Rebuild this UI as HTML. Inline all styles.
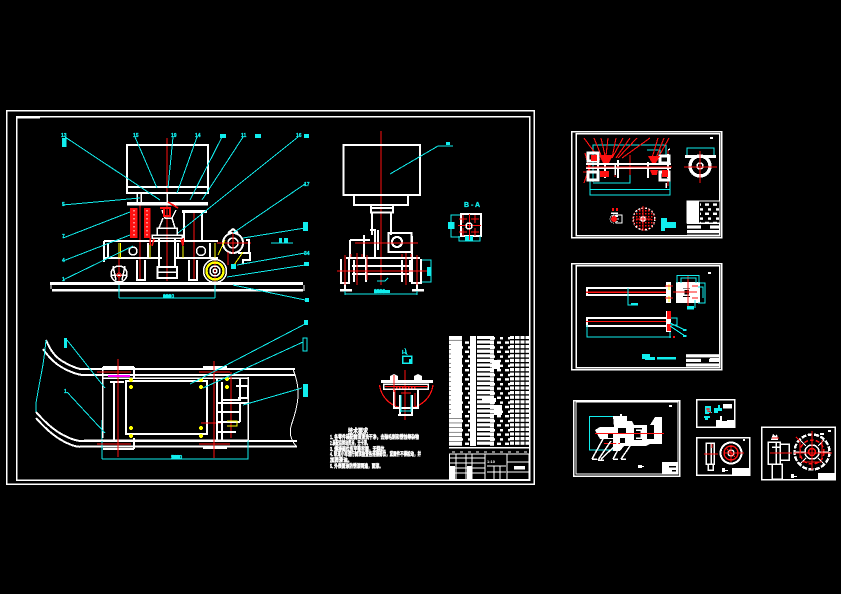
<!DOCTYPE html>
<html lang="zh"><head><meta charset="utf-8"><title>CAD drawing</title>
<style>
html,body{margin:0;padding:0;background:#000;width:841px;height:594px;overflow:hidden}
svg{display:block;shape-rendering:crispEdges}
text{font-family:"Liberation Sans","Noto Sans CJK SC",sans-serif;font-weight:bold}
.w{stroke:#fff;fill:none}
.c{stroke:#1ee;fill:none}
.r{stroke:#f11;fill:none}
.y{stroke:#ff0;fill:none}
.fw{fill:#fff}.fc{fill:#1ee}.fr{fill:#f11}.fy{fill:#ff0}
.tc{fill:#1ee;font-size:5px;stroke:#1ee;stroke-width:.3px}
.tw{fill:#fff;font-size:5.6px;stroke:#fff;stroke-width:.45px}
</style></head><body>
<svg width="841" height="594" viewBox="0 0 841 594" xmlns="http://www.w3.org/2000/svg" stroke-width="1.500">
<defs>
<pattern id="rows" width="5" height="4.6" patternUnits="userSpaceOnUse"><rect width="5" height="3" fill="#fff"/></pattern>
<pattern id="dense" width="5" height="4.6" patternUnits="userSpaceOnUse"><rect width="5" height="4" fill="#fff"/></pattern>
<pattern id="sparse" width="8" height="9.2" patternUnits="userSpaceOnUse"><rect x="1" y="1" width="4" height="2.4" fill="#fff"/><rect x="4" y="5.6" width="3" height="2.4" fill="#fff"/></pattern>
<pattern id="hatch" width="3" height="3" patternUnits="userSpaceOnUse"><rect width="1.6" height="1.6" fill="#f11"/></pattern>
</defs>
<rect width="841" height="594" fill="#000"/>

<!-- main frames -->
<rect class="w" x="6.500" y="110.500" width="527.500" height="373.500"/>
<rect class="w" x="16.500" y="116.500" width="513" height="363.500"/>
<path class="w" stroke-width="1" d="M17 118H40"/>

<!-- FRONT VIEW -->
<g>
<path class="r" stroke-width="1" d="M167 138V281M119 245V298M140 205V280M194 210V280M215 250V290"/>
<rect class="w" x="127" y="145" width="81" height="48" stroke-width="2"/>
<path class="w" stroke-width="2" d="M127 187H208"/>
<path class="w" d="M137 193V202M141 193V202M167 193V202"/>
<rect class="fw" x="127" y="202" width="81" height="3.500"/>
<rect class="fw" x="182" y="210" width="25" height="3"/>
<path class="w" stroke-width="2" d="M184 213V240M202 213V240"/>
<path class="w" d="M162 210L165 218H172L176 210M163 218L159 228H175L172 218M157 228H177V235H157ZM152 235H182V238H152Z"/>
<rect class="fr" x="130" y="208" width="7.500" height="30"/>
<rect class="fr" x="144" y="208" width="6.500" height="30"/>
<path stroke="#fff" stroke-width="1" stroke-dasharray="1.500 2.500" d="M134 210V236M147 210V236"/>
<rect class="fr" x="160" y="207" width="11" height="2"/>
<path class="r" stroke-width="1.600" d="M164 208V216H170V208M168 202L178 208"/>
<path class="w" stroke-width="2" d="M159 238V267M175 238V267"/>
<rect class="w" x="157.500" y="267" width="19.500" height="11" stroke-width="2"/>
<path class="w" d="M158 272H176"/>
<path class="w" stroke-width="2.400" d="M104 241H218M104 258H162M175 258H218"/>
<path class="w" stroke-width="2" d="M104 241V262M108 243V258M148 243V258M178 243V258M210 243V258"/>
<path class="w" stroke-width="2" d="M137 260V280H145V260M189 260V280H197V260"/>
<circle class="w" cx="133" cy="251" r="4"/><circle class="w" cx="201" cy="251" r="4.500"/>
<path class="y" stroke-width="1.200" d="M119 243V258M120.500 243V258M150 243V258M183 243V258M215 243V258"/>
<path class="r" stroke-width="1.500" d="M150 238V245M183 238V245M154 239L152 246M181 239L183 246"/>
<circle class="w" cx="119" cy="274" r="8"/><path class="w" d="M113 266L116 280M125 266L122 280M111 275H127"/>
<circle class="r" stroke-width="1" cx="119" cy="275" r="2"/>
<circle class="w" cx="215" cy="271" r="11.500"/>
<circle cx="215" cy="271" r="8.500" stroke="#ff0" stroke-width="2.400" fill="none"/>
<circle class="w" cx="215" cy="271" r="5"/><circle class="w" cx="215" cy="271" r="2"/>
<circle class="w" cx="233" cy="243" r="10" stroke-width="2"/><path class="w" stroke-width="2" d="M228 233L233 229L238 233"/>
<circle class="w" cx="233" cy="243" r="5"/>
<path class="r" stroke-width="1.200" d="M217 243H251M233 232V254M228 252V265"/>
<path class="w" stroke-width="2" d="M238 253H250V260H243V264M246 240H249V253"/>
<path class="y" stroke-width="1" d="M218 255L225 240M232 268L243 252"/>
<rect class="fc" x="231" y="264" width="5" height="5"/>
<!-- rail -->
<rect class="fw" x="50" y="282" width="253" height="3"/>
<rect class="fw" x="52" y="289" width="251" height="2.500"/>
<path class="w" stroke-width="1" d="M51 285V289M304 285V291"/>
<path class="c" stroke-width="1" d="M119 298H215M119 285V298M215 285V298"/>
<text class="tc" x="163" y="298">2800</text><rect class="fc" x="163" y="295" width="8" height="3"/>
<!-- leaders -->
<path class="c" stroke-width="1" d="M65 137L160 200M135 137L157 188M173 137L168 188M197 137L177 193M222 137L190 200M243 137L202 200M298 137L178 233M305 184L233 233M305 228L243 238M305 253L237 265M305 265L227 277M305 300L233 285M63 205L140 198M63 238L130 212M63 261L130 235M63 280L133 246M271 243H293"/>
<text class="tc" x="61" y="137">13</text><rect class="fc" x="62" y="138" width="4.500" height="9"/>
<text class="tc" x="133" y="137">15</text><text class="tc" x="171" y="137">19</text><text class="tc" x="195" y="137">14</text>
<rect class="fc" x="220" y="134" width="6" height="4"/><text class="tc" x="241" y="137">11</text><rect class="fc" x="255" y="134" width="6" height="4"/>
<text class="tc" x="296" y="137">16</text><rect class="fc" x="304" y="134" width="5" height="4"/>
<text class="tc" x="304" y="186">17</text><rect class="fc" x="303" y="222" width="5" height="9"/>
<rect class="fc" x="279" y="238" width="3" height="5"/><rect class="fc" x="284" y="238" width="4" height="5"/>
<text class="tc" x="304" y="255">34</text><rect class="fc" x="304" y="262" width="5" height="4"/><rect class="fc" x="305" y="298" width="4" height="4"/>
<text class="tc" x="62" y="206">5</text><text class="tc" x="62" y="238">7</text><text class="tc" x="62" y="262">4</text><text class="tc" x="62" y="281">1</text>
</g>

<!-- PLAN VIEW -->
<g>
<path class="w" stroke-width="2" d="M46 340Q52 355 62 361T80 369H295M43 349Q52 362 63 368T82 375H295M36 412Q50 428 63 435T85 441H297M36 418Q50 434 63 441T82 446.500H297"/>
<path class="w" stroke-width="1" d="M293 369Q299 385 298 397T292 423T297 447"/>
<path class="c" stroke-width="1" d="M46 340Q44 360 42 370T36 403V412"/>
<path class="c" stroke-width="1.200" d="M102 459H248V433M102 420V459"/>
<text class="tc" x="171" y="459">5000</text><rect class="fc" x="172" y="455" width="8" height="3.500"/>
<path class="w" d="M102.500 367V438M102 378H248M248 377V440M84 440H248"/>
<path class="w" stroke-width="2.400" d="M103 367H134M103 449H134M203 367H227M203 448H227M134 367V378M134 438V449"/>
<rect class="w" x="126" y="381" width="81" height="53" stroke-width="2"/>
<path class="w" stroke-width="2" d="M114 382V440M110 382H124"/>
<path class="r" stroke-width="1.200" d="M118 359V457M214 361V458M231 372V438M97 372H131M199 372H230M97 444H131M199 444H230M201 423H222"/>
<path stroke="#f0f" stroke-width="1.600" d="M108 376H130"/>
<g class="fy"><circle cx="131" cy="380" r="2"/><circle cx="131" cy="387" r="2"/><circle cx="131" cy="428" r="2"/><circle cx="131" cy="436" r="2"/><circle cx="201" cy="380" r="2"/><circle cx="201" cy="387" r="2"/><circle cx="201" cy="428" r="2"/><circle cx="201" cy="436" r="2"/><circle cx="227" cy="379" r="2"/><circle cx="227" cy="387" r="2"/></g>
<path class="w" stroke-width="2" d="M217 378V440M222 382V440M221 400H240V378M236 386H248V398H238M218 403H248M218 412H240V404M216 422H240M218 432H236M240 412V422"/>
<path class="y" stroke-width="1" d="M227 421H237V426H227"/>
<path class="c" stroke-width="1" d="M307 323L190 384M303 342L203 388M302 388L243 405M67 340L105 388M67 392L105 433"/>
<rect class="fc" x="304" y="320" width="4" height="5"/><rect class="c" stroke-width="1" x="303" y="338" width="4" height="13"/><rect class="fc" x="303" y="384" width="5" height="13"/>
<text class="tc" x="64" y="344">9</text><rect class="fc" x="64" y="338" width="3" height="10"/>
<text class="tc" x="64" y="393">1</text>
</g>

<!-- SIDE VIEW -->
<g>
<path class="r" stroke-width="1" d="M381 131V285"/>
<rect class="w" x="343.500" y="145" width="76.500" height="50" stroke-width="2"/>
<path class="w" stroke-width="2" d="M354 195V205H408V195"/><rect class="fw" x="354" y="204" width="55" height="2"/>
<path class="w" stroke-width="2" d="M370 208H394M370 212.500H394M372 213V235M391 213V235M371 205V213M393 205V213"/>
<rect class="w" x="388.500" y="233" width="23" height="19" stroke-width="2.200"/>
<circle class="w" cx="397" cy="242" r="5" stroke-width="2.200"/>
<path class="w" stroke-width="2" d="M350 240V258M350 240H370M364 235V258M370 230H375V258M378 230V250"/>
<path class="w" stroke-width="2" d="M412 236V258"/>
<path class="r" stroke-width="1" d="M355 243H418"/>
<path class="w" stroke-width="2.400" d="M346 258H420M352 266H412M352 274H412"/>
<path class="w" stroke-width="2.200" d="M341 259V283H349V259M412 259V283H421V259M354 260V282M366 258V282M402 260V282M410 260V282"/>
<path class="w" stroke-width="2" d="M345 283V289M417 283V289"/>
<rect class="fw" x="340" y="289" width="12" height="2.500"/><rect class="fw" x="412" y="289" width="12" height="2.500"/>
<path class="r" stroke-width="1.300" d="M337 271H427M345 255V285M357 253V285M367 255V280M406 253V285M417 255V285M351 254V257M362 254V257M402 254V257M411 254V257"/>
<path class="c" stroke-width="1" d="M345 294H417M345 291V295M417 291V295M422 260H431V282H422M377 281H385L388 278"/>
<rect class="fc" x="427" y="267" width="3.500" height="9"/>
<rect class="fc" x="374" y="290" width="16" height="3"/><text class="tc" x="374" y="293">2800</text>
<path class="c" stroke-width="1" d="M390 174L438 146H453"/><rect class="fc" x="446" y="142" width="4" height="3"/>
</g>

<!-- A-A section -->
<g>
<text class="tc" x="464" y="207" style="font-size:7px">B - A</text>
<rect class="w" x="461" y="214" width="20" height="22" stroke-width="2"/>
<path class="c" stroke-width="1" d="M460 215H451V237H460M459 236V241H480V236M454 222V229"/>
<rect class="fc" x="448" y="222" width="6" height="7"/><rect class="fc" x="465" y="236" width="8" height="5"/>
<path class="r" stroke-width="1" d="M458 225.500H481M469.500 214V240M459 219H467M463 215V223M471 219H479M475 215V223M459 232H467M463 228V236M471 232H479M475 228V236"/>
<circle class="w" cx="469" cy="226" r="3"/>
</g>

<!-- circular section -->
<g>
<text class="tc" x="402" y="354" style="font-size:5px">I-I</text>
<path class="c" stroke-width="1" d="M405 348L407 355"/><rect class="c" stroke-width="1.500" x="402.500" y="356" width="9" height="7"/><rect class="fc" x="409" y="359" width="3" height="4"/>
<path class="r" stroke-width="1.200" d="M379.500 385A27 27 0 0 0 433 385M405 370V420"/>
<path class="fw" d="M390 380V376L394 374L398 376V380ZM414 380V376L418 374L422 376V380Z"/>
<rect class="fw" x="381" y="380" width="52" height="3"/>
<rect class="w" x="383.500" y="384" width="44.500" height="5" stroke-width="1.500"/>
<path class="r" stroke-width="1" d="M385 386.500H428"/>
<rect x="395" y="386" width="22" height="4" fill="url(#hatch)"/>
<path class="w" stroke-width="2.200" d="M394 390V408H418V390M400 395V415H412V395"/>
<path class="c" stroke-width="1" d="M401 395V412M411 395V412M400 411H411"/>
<path class="r" stroke-width="1.300" d="M395 390V406M415 393V406M401 393H411M394 375V392"/>
<rect class="fw" x="398" y="414" width="15" height="2"/>
</g>

<!-- technical notes -->
<g>
<text class="tw" x="348" y="433" textLength="20" lengthAdjust="spacingAndGlyphs" style="font-size:6.500px">技术要求</text>
<text class="tw" x="330" y="439" textLength="89" lengthAdjust="spacingAndGlyphs">1. 各零件装配前须清洗干净，去除毛刺和锈蚀等杂物</text>
<text class="tw" x="330" y="445" textLength="40" lengthAdjust="spacingAndGlyphs">2.装配后转动灵活，无卡滞。</text>
<text class="tw" x="330" y="451" textLength="58" lengthAdjust="spacingAndGlyphs">3. 焊接部位应平整牢固，无裂纹。</text>
<text class="tw" x="330" y="456" textLength="91" lengthAdjust="spacingAndGlyphs">4. 轨道小车运行前须检查各连接部位，紧固件不得松动，并</text>
<text class="tw" x="330" y="462" textLength="22" lengthAdjust="spacingAndGlyphs">加润滑油。</text>
<text class="tw" x="330" y="468" textLength="53" lengthAdjust="spacingAndGlyphs">5. 外表面涂防锈漆两遍，面漆。</text>
</g>

<!-- BOM table -->
<g>
<rect x="449" y="336" width="80" height="110" fill="#000"/>
<rect x="449" y="336" width="13" height="110" fill="url(#dense)"/>
<rect x="451" y="341" width="11" height="74" fill="#fff"/>
<rect x="462" y="340" width="8" height="106" fill="url(#sparse)"/>
<rect x="470" y="336" width="6" height="110" fill="#fff"/>
<rect x="477" y="336" width="13" height="110" fill="url(#rows)"/>
<rect x="490" y="336" width="4" height="110" fill="url(#dense)"/>
<rect x="494" y="336" width="16" height="110" fill="url(#sparse)"/>
<rect x="510" y="336" width="19" height="110" fill="url(#rows)"/>
<path stroke="#000" stroke-width="1" d="M514.500 336V446M520 336V446M525 336V446"/>
<rect x="492" y="360" width="8" height="9" fill="#fff"/><rect x="494" y="405" width="8" height="10" fill="#fff"/><rect x="482" y="398" width="14" height="4" fill="#fff"/>
<rect x="449" y="447" width="80" height="1.500" fill="#fff"/>
<path stroke="#fff" stroke-width="1.300" stroke-dasharray="3 5" d="M452 452H529"/>
<rect class="w" x="449.500" y="454" width="79.500" height="25.500" stroke-width="1.200"/>
<path class="w" stroke-width="1" d="M449 458H485M449 463H485M449 468H485M449 473H485M456 454V479M466 454V479M472 454V479M485 454V479M507 454V479M507 462H529M507 472H529M487 466H506M487 472H506M494 466V479M500 466V479"/>
<rect class="fw" x="449" y="466" width="6" height="13"/><rect class="fw" x="467" y="466" width="5" height="13"/>
<rect class="fw" x="514" y="466" width="11" height="3.500"/>
<text x="487" y="463" fill="#fff" style="font-size:4px">1:10</text>
</g>

<!-- DRAWING 2 -->
<g>
<rect class="w" x="571.500" y="131.500" width="150" height="106"/>
<rect class="w" x="576" y="133.500" width="143.500" height="102"/>
<rect class="fw" x="710" y="137" width="3" height="2"/>
<path class="c" stroke-width="1.200" d="M593 182V145H666V156M593 183H630V155M590 180V195H670V180M590 189.500H670M647 150H660V158"/>
<g stroke="#f11" fill="none" stroke-width="1.100"><path d="M584 138L600 160M594 138L603 160M601 138L606 160M608 138L606 156M616 138L612 158M623 138L612 158M630 138L616 158M637 138L618 158M650 138L622 158M658 138L652 158M664 138L656 158M669 138L658 158M585 153L590 172M584 183L590 165M583 172H590M668 150V160M668 178V186M630 155V175M615 170V177"/></g>
<path class="w" stroke-width="2" d="M586 164H671M586 168H671M598 158V180M605 158V178M618 160V178M648 162V178M668 154V178"/>
<rect class="w" x="588" y="153" width="10" height="8" stroke-width="3"/><rect class="w" x="588" y="172" width="10" height="8" stroke-width="3"/>
<rect class="w" x="660" y="156" width="9" height="7" stroke-width="3"/><rect class="w" x="660" y="172" width="9" height="8" stroke-width="3"/>
<path class="fr" d="M599 155H613L609 163H603ZM648 156H660L656 163H652ZM600 171H609V177H600ZM650 170H658L657 175H652ZM591 155H597V161H591ZM662 170H668V177H662Z"/>
<path class="r" stroke-width="1.300" d="M586 167H672"/>
<path class="w" d="M615 165V175M666 183V188M668 150L670 149"/>
<circle cx="700" cy="166" r="10" stroke="#fff" fill="none" stroke-width="3.400"/>
<path class="c" stroke-width="1.200" d="M687 158V148H714V158"/>
<rect class="fw" x="685" y="155" width="31" height="3"/><circle class="w" cx="700" cy="166" r="3"/>
<path class="r" stroke-width="1" d="M684 167H717M700 151V183"/>
<rect class="fr" x="612" y="208" width="2" height="3"/><rect class="fr" x="616" y="208" width="2" height="3"/>
<path class="w" d="M611 213H618M612 216H618"/><rect class="w" x="616" y="215" width="6" height="8" stroke-width="1"/>
<circle cx="614" cy="219" r="3" class="fr"/><circle cx="614" cy="219" r="4" stroke="#fff" stroke-width="1" stroke-dasharray="1 1" fill="none"/>
<circle cx="644" cy="219" r="11" fill="url(#hatch)" stroke="#fff" stroke-width="1.500" stroke-dasharray="2 1.500"/>
<circle cx="644" cy="219" r="11" fill="none" stroke="#f11" stroke-width="1" stroke-dasharray="1 3"/>
<circle cx="643" cy="219" r="3" fill="#fff"/><path class="r" stroke-width="1" d="M643 206V231M636 219H651"/>
<path class="fc" d="M661 218H667V222H676V228H665V231H661Z"/>
<rect x="687" y="201" width="33" height="22" fill="#000" stroke="#fff" stroke-width="1"/>
<rect x="687" y="201" width="12" height="22" fill="#fff"/>
<rect x="700" y="203" width="20" height="20" fill="url(#sparse)"/>
<rect x="687" y="223" width="33" height="12" fill="url(#rows)"/>
<rect x="701" y="225" width="9" height="5" fill="#000"/>
</g>

<!-- DRAWING 3 -->
<g>
<rect class="w" x="571.500" y="263.500" width="150" height="106"/>
<rect class="w" x="576" y="265.500" width="143.500" height="102"/>
<rect class="fw" x="708" y="272" width="3" height="2"/>
<rect class="w" x="587" y="288" width="80" height="7" stroke-width="2"/>
<path class="r" stroke-width="1.500" d="M586 292H670"/>
<rect class="fw" x="666" y="282" width="5" height="21"/>
<path class="y" stroke-width="1.200" d="M669 284V290M669 296V302"/><path class="r" stroke-width="1.400" d="M665 286H673M665 298H673"/>
<path class="c" stroke-width="1.300" d="M628 288V305H634"/><rect class="fc" x="631" y="303" width="7" height="2.500"/>
<rect class="fw" x="676" y="282" width="7" height="21"/><rect class="fw" x="690" y="282" width="10" height="21"/>
<rect class="fw" x="683" y="282" width="7" height="6"/><rect class="fw" x="683" y="297" width="7" height="6"/>
<rect x="683" y="288" width="7" height="9" fill="#000"/><rect class="w" x="683.500" y="289" width="6" height="6"/>
<path class="r" stroke-width="1.200" d="M673 292H697M688 275V308M692 286H698M692 298H698"/>
<path class="c" stroke-width="1.300" d="M677 283V275.500H699V283M681 283V278H696V283M700 283H705V303H698M698 287H703V298M695 300V308"/>
<rect class="fc" x="687" y="306" width="7" height="3.500"/>
<rect class="w" x="587" y="318" width="80" height="8" stroke-width="2"/>
<path class="r" stroke-width="1" d="M586 321.500H670"/>
<rect class="fw" x="666" y="311" width="5" height="21"/>
<rect class="fr" x="667" y="311" width="4" height="8"/><rect class="fr" x="667" y="324" width="4" height="7"/>
<path class="c" stroke-width="1.200" d="M587 325V337H671M671 318H677V325H671M670 323L685 330H687M670 326L685 336H687M670 332V338"/>
<rect class="fc" x="683" y="329" width="3" height="2"/><rect class="fc" x="683" y="335" width="3" height="2"/>
<rect class="fr" x="673" y="336" width="2" height="2"/>
<rect class="fc" x="642" y="354" width="8" height="5"/><rect class="fc" x="645" y="357" width="10" height="3"/><rect class="fc" x="657" y="357" width="19" height="2.500"/>
<rect x="686" y="353" width="34" height="14" fill="url(#rows)"/>
<rect x="701" y="358" width="8" height="5" fill="#000"/>
<rect x="710" y="358" width="9" height="1" fill="#fff"/>
</g>

<!-- DRAWING 4 -->
<g>
<rect class="w" x="573.500" y="400.500" width="106" height="75.500"/>
<path class="w" stroke-width="1" d="M576 401V474H678V402H576"/>
<path class="c" stroke-width="1.300" d="M613 416.500H589.500V450H613"/>
<path class="fw" d="M595 430L600 427H614L613 416H620V414H622V416H627L627 421H632L634 425H650L655 417H662V444H650L646 446H624L620 451H613V439H600Z"/>
<rect x="634" y="428" width="8" height="12" fill="#000"/><rect x="647" y="425" width="7" height="14" fill="#000"/><rect x="618" y="428" width="8" height="6" fill="#000"/><rect x="620" y="438" width="5" height="5" fill="#000"/><rect x="608" y="434" width="5" height="4" fill="#000"/>
<path class="w" d="M636 430H641V438H636M617 424V445"/>
<path class="r" stroke-width="1.200" d="M595 433.500H664M604 443.500H620"/>
<path class="w" d="M592 459L603 439M598 460L611 441M601 459L618 443M613 459L620 446M621 459L630 446M592 459H597M598 460H604M613 459H618M621 459H626"/>
<rect class="fw" x="638" y="465" width="4" height="3"/><rect class="fw" x="642" y="466" width="2" height="1"/>
<rect class="fw" x="669" y="405" width="3" height="2"/>
<rect x="662" y="462" width="16" height="12" fill="#fff"/><rect x="669" y="466" width="7" height="1.500" fill="#000"/><rect x="672" y="470" width="4" height="1.500" fill="#000"/>
</g>

<!-- DRAWING 5 -->
<g>
<rect class="w" x="696.500" y="399.500" width="38" height="27.500"/>
<path class="fc" d="M705 406H711V412H712V413H709V414H705ZM714 408H718V405H720V408H722V411H718V413H714ZM704 416H710V418H708V420H705V418H704Z"/>
<path class="r" stroke-width="1.300" d="M706 409H710M708 408V412M709 411L711 413"/>
<rect class="fw" x="723" y="404" width="9" height="4.500"/>
<rect x="716" y="420" width="18" height="6.500" fill="#fff"/><rect class="fw" x="720" y="416" width="2" height="4"/><rect x="722" y="420" width="5" height="1" fill="#000"/>
</g>

<!-- DRAWING 6 -->
<g>
<rect class="w" x="696.500" y="437.500" width="53" height="37.500"/>
<rect class="w" x="706" y="443" width="8" height="21" stroke-width="1.500"/>
<path class="w" d="M711 443V464M708 464V470H713V464"/>
<path class="r" stroke-width="1" d="M704 454H718M712 444V448"/>
<circle cx="731" cy="453" r="10.500" fill="none" stroke="#fff" stroke-width="2"/>
<circle cx="731" cy="453" r="7" fill="none" stroke="#f11" stroke-width="1.400"/>
<circle cx="731" cy="453" r="3" fill="none" stroke="#fff" stroke-width="1.400"/>
<path class="r" stroke-width="1" d="M724 453H744M731 445V462M727 449L735 457"/>
<rect class="fw" x="722" y="468" width="3" height="4"/><rect class="fw" x="725" y="470" width="3" height="1"/>
<rect x="732" y="468" width="17" height="6.500" fill="#fff"/>
<rect class="fw" x="743" y="439" width="2" height="2"/>
</g>

<!-- DRAWING 7 -->
<g>
<rect class="w" x="761.500" y="427" width="73.500" height="52.500"/>
<rect class="w" x="768" y="442" width="12" height="22" stroke-width="1.500"/>
<rect class="w" x="780" y="444" width="9" height="16"/>
<path class="fw" d="M771 440L773 434L775 436L777 434L778 440Z"/>
<rect class="w" x="772" y="464" width="10" height="15" stroke-width="1.500"/>
<path class="w" d="M772 447H780M776 442V464"/>
<path class="r" stroke-width="1.200" d="M770 453H792M772 438H779"/>
<circle cx="812" cy="452" r="17.500" fill="none" stroke="#fff" stroke-width="2.400" stroke-dasharray="5 1.500"/>
<circle cx="812" cy="452" r="12" fill="none" stroke="#f11" stroke-width="1.500" stroke-dasharray="4 2"/>
<circle cx="812" cy="452" r="7" fill="none" stroke="#fff" stroke-width="1.600"/>
<circle cx="812" cy="452" r="3.500" fill="none" stroke="#f11" stroke-width="1.600"/>
<path class="w" stroke-width="1" d="M812 435V445M812 459V469M795 452H805M819 452H829M800 440L806 446M818 458L824 464M824 440L818 446M806 458L800 464"/>
<path class="r" stroke-width="1.300" d="M812 431V470M794 453H832M796 437L800 441M800 442V458M822 440V460M802 462H822"/>
<rect class="fw" x="820" y="433" width="4" height="2"/><rect class="fw" x="828" y="430" width="3" height="2"/>
<rect class="fw" x="791" y="474" width="3" height="4"/><rect class="fw" x="794" y="476" width="3" height="1"/>
<rect x="818" y="473" width="17" height="6" fill="#fff"/>
</g>
</svg>
</body></html>
